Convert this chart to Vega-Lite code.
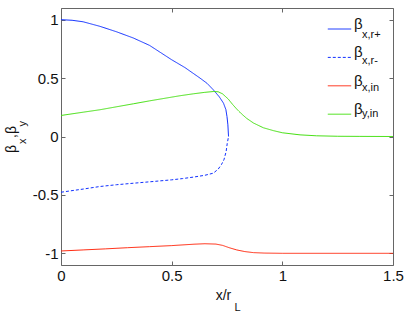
{
  "$schema": "https://vega.github.io/schema/vega-lite/v6.json",
  "width": 332,
  "height": 257,
  "autosize": "none",
  "padding": {"left": 61, "top": 8, "right": 14, "bottom": 46},
  "background": "white",
  "config": {
    "view": {"stroke": "#666", "strokeWidth": 1},
    "font": "Liberation Sans",
    "axis": {
      "grid": false, "domain": false, "tickColor": "#666", "tickSize": -4, "tickWidth": 1,
      "labelFont": "Liberation Sans", "labelFontSize": 15, "labelColor": "#111",
      "labelFlush": false, "labelOverlap": false,
      "titleFont": "Liberation Sans", "titleFontWeight": "normal", "titleColor": "#111"
    },
    "legend": {"labelFont": "Liberation Sans", "labelColor": "#111"}
  },
  "data": {
    "values": [
      {"series": "βx,r+", "sub": "x,r+", "x": 0, "y": 1.0},
      {"series": "βx,r+", "sub": "x,r+", "x": 0.05, "y": 0.995},
      {"series": "βx,r+", "sub": "x,r+", "x": 0.1, "y": 0.982},
      {"series": "βx,r+", "sub": "x,r+", "x": 0.176, "y": 0.943},
      {"series": "βx,r+", "sub": "x,r+", "x": 0.25, "y": 0.897},
      {"series": "βx,r+", "sub": "x,r+", "x": 0.327, "y": 0.843},
      {"series": "βx,r+", "sub": "x,r+", "x": 0.4, "y": 0.78},
      {"series": "βx,r+", "sub": "x,r+", "x": 0.5, "y": 0.657},
      {"series": "βx,r+", "sub": "x,r+", "x": 0.56, "y": 0.59},
      {"series": "βx,r+", "sub": "x,r+", "x": 0.628, "y": 0.5},
      {"series": "βx,r+", "sub": "x,r+", "x": 0.66, "y": 0.455},
      {"series": "βx,r+", "sub": "x,r+", "x": 0.688, "y": 0.4},
      {"series": "βx,r+", "sub": "x,r+", "x": 0.715, "y": 0.34},
      {"series": "βx,r+", "sub": "x,r+", "x": 0.734, "y": 0.286},
      {"series": "βx,r+", "sub": "x,r+", "x": 0.745, "y": 0.23},
      {"series": "βx,r+", "sub": "x,r+", "x": 0.75, "y": 0.17},
      {"series": "βx,r+", "sub": "x,r+", "x": 0.754, "y": 0.1},
      {"series": "βx,r+", "sub": "x,r+", "x": 0.756, "y": 0.03},
      {"series": "βx,r+", "sub": "x,r+", "x": 0.757, "y": 0.0},
      {"series": "βx,r-", "sub": "x,r-", "x": 0, "y": -0.477},
      {"series": "βx,r-", "sub": "x,r-", "x": 0.1, "y": -0.45},
      {"series": "βx,r-", "sub": "x,r-", "x": 0.176, "y": -0.428},
      {"series": "βx,r-", "sub": "x,r-", "x": 0.25, "y": -0.413},
      {"series": "βx,r-", "sub": "x,r-", "x": 0.327, "y": -0.4},
      {"series": "βx,r-", "sub": "x,r-", "x": 0.4, "y": -0.388},
      {"series": "βx,r-", "sub": "x,r-", "x": 0.5, "y": -0.371},
      {"series": "βx,r-", "sub": "x,r-", "x": 0.55, "y": -0.36},
      {"series": "βx,r-", "sub": "x,r-", "x": 0.6, "y": -0.347},
      {"series": "βx,r-", "sub": "x,r-", "x": 0.65, "y": -0.332},
      {"series": "βx,r-", "sub": "x,r-", "x": 0.688, "y": -0.314},
      {"series": "βx,r-", "sub": "x,r-", "x": 0.71, "y": -0.28},
      {"series": "βx,r-", "sub": "x,r-", "x": 0.725, "y": -0.24},
      {"series": "βx,r-", "sub": "x,r-", "x": 0.736, "y": -0.2},
      {"series": "βx,r-", "sub": "x,r-", "x": 0.746, "y": -0.13},
      {"series": "βx,r-", "sub": "x,r-", "x": 0.751, "y": -0.06},
      {"series": "βx,r-", "sub": "x,r-", "x": 0.757, "y": 0.0},
      {"series": "βx,in", "sub": "x,in", "x": 0, "y": -0.98},
      {"series": "βx,in", "sub": "x,in", "x": 0.1, "y": -0.971},
      {"series": "βx,in", "sub": "x,in", "x": 0.2, "y": -0.962},
      {"series": "βx,in", "sub": "x,in", "x": 0.3, "y": -0.952},
      {"series": "βx,in", "sub": "x,in", "x": 0.4, "y": -0.943},
      {"series": "βx,in", "sub": "x,in", "x": 0.5, "y": -0.934},
      {"series": "βx,in", "sub": "x,in", "x": 0.6, "y": -0.922},
      {"series": "βx,in", "sub": "x,in", "x": 0.65, "y": -0.918},
      {"series": "βx,in", "sub": "x,in", "x": 0.7, "y": -0.921},
      {"series": "βx,in", "sub": "x,in", "x": 0.73, "y": -0.932},
      {"series": "βx,in", "sub": "x,in", "x": 0.76, "y": -0.952},
      {"series": "βx,in", "sub": "x,in", "x": 0.794, "y": -0.971},
      {"series": "βx,in", "sub": "x,in", "x": 0.83, "y": -0.985},
      {"series": "βx,in", "sub": "x,in", "x": 0.869, "y": -0.994},
      {"series": "βx,in", "sub": "x,in", "x": 0.92, "y": -0.998},
      {"series": "βx,in", "sub": "x,in", "x": 1.0, "y": -1.0},
      {"series": "βx,in", "sub": "x,in", "x": 1.5, "y": -1.0},
      {"series": "βy,in", "sub": "y,in", "x": 0, "y": 0.18},
      {"series": "βy,in", "sub": "y,in", "x": 0.1, "y": 0.208},
      {"series": "βy,in", "sub": "y,in", "x": 0.176, "y": 0.229},
      {"series": "βy,in", "sub": "y,in", "x": 0.25, "y": 0.254},
      {"series": "βy,in", "sub": "y,in", "x": 0.327, "y": 0.28},
      {"series": "βy,in", "sub": "y,in", "x": 0.4, "y": 0.305},
      {"series": "βy,in", "sub": "y,in", "x": 0.5, "y": 0.337},
      {"series": "βy,in", "sub": "y,in", "x": 0.538, "y": 0.349},
      {"series": "βy,in", "sub": "y,in", "x": 0.6, "y": 0.366},
      {"series": "βy,in", "sub": "y,in", "x": 0.65, "y": 0.378},
      {"series": "βy,in", "sub": "y,in", "x": 0.688, "y": 0.385},
      {"series": "βy,in", "sub": "y,in", "x": 0.71, "y": 0.383},
      {"series": "βy,in", "sub": "y,in", "x": 0.73, "y": 0.365},
      {"series": "βy,in", "sub": "y,in", "x": 0.756, "y": 0.32},
      {"series": "βy,in", "sub": "y,in", "x": 0.775, "y": 0.275},
      {"series": "βy,in", "sub": "y,in", "x": 0.794, "y": 0.235},
      {"series": "βy,in", "sub": "y,in", "x": 0.815, "y": 0.195},
      {"series": "βy,in", "sub": "y,in", "x": 0.839, "y": 0.155},
      {"series": "βy,in", "sub": "y,in", "x": 0.87, "y": 0.115},
      {"series": "βy,in", "sub": "y,in", "x": 0.914, "y": 0.075},
      {"series": "βy,in", "sub": "y,in", "x": 0.96, "y": 0.05},
      {"series": "βy,in", "sub": "y,in", "x": 1.0, "y": 0.032},
      {"series": "βy,in", "sub": "y,in", "x": 1.08, "y": 0.014},
      {"series": "βy,in", "sub": "y,in", "x": 1.155, "y": 0.006},
      {"series": "βy,in", "sub": "y,in", "x": 1.25, "y": 0.002},
      {"series": "βy,in", "sub": "y,in", "x": 1.35, "y": 0.001},
      {"series": "βy,in", "sub": "y,in", "x": 1.5, "y": 0.0}
    ]
  },
  "layer": [
    {
      "mark": {"type": "line", "strokeWidth": 1, "clip": true},
      "encoding": {
        "x": {
          "field": "x", "type": "quantitative",
          "scale": {"domain": [0, 1.5], "nice": false, "zero": false},
          "axis": {
            "orient": "bottom", "values": [0, 0.5, 1, 1.5], "labelExpr": "'' + datum.value",
            "labelPadding": 7, "title": "x/r", "titleFontSize": 14,
            "titleX": 162, "titleY": 34, "titleBaseline": "alphabetic", "titleAlign": "center", "titleAngle": 0
          }
        },
        "y": {
          "field": "y", "type": "quantitative",
          "scale": {"domain": [-1.1, 1.1], "nice": false, "zero": false},
          "axis": {
            "orient": "left", "values": [-1, -0.5, 0, 0.5, 1], "labelExpr": "'' + datum.value",
            "labelPadding": 7, "title": "β\u2002,β", "titleFontSize": 14,
            "titleX": -46, "titleY": 131, "titleBaseline": "alphabetic", "titleAlign": "center", "titleAngle": -90
          }
        },
        "color": {
          "field": "series", "type": "nominal",
          "scale": {"domain": ["βx,r+", "βx,r-", "βx,in", "βy,in"], "range": ["#1030ff", "#1030ff", "#ff2a10", "#44e010"]},
          "legend": {
            "orient": "none", "legendX": 266, "legendY": 11, "title": null, "padding": 0,
            "symbolType": "stroke", "symbolSize": 548, "symbolStrokeWidth": 1,
            "labelExpr": "'β'", "labelFontSize": 15, "labelBaseline": "alphabetic", "labelOffset": 2,
            "clipHeight": 20, "rowPadding": 6.4
          }
        },
        "strokeDash": {
          "field": "series", "type": "nominal",
          "scale": {"domain": ["βx,r+", "βx,r-", "βx,in", "βy,in"], "range": [[1, 0], [3, 2], [1, 0], [1, 0]]},
          "legend": {
            "orient": "none", "legendX": 266, "legendY": 11, "title": null, "padding": 0,
            "symbolType": "stroke", "symbolSize": 548, "symbolStrokeWidth": 1,
            "labelExpr": "'β'", "labelFontSize": 15, "labelBaseline": "alphabetic", "labelOffset": 2,
            "clipHeight": 20, "rowPadding": 6.4
          }
        }
      }
    },
    {
      "mark": {"type": "point", "opacity": 0},
      "encoding": {
        "x": {"field": "x", "type": "quantitative", "axis": {"orient": "top", "values": [0, 0.5, 1, 1.5], "labels": false, "title": null}},
        "y": {"field": "y", "type": "quantitative", "axis": {"orient": "right", "values": [-1, -0.5, 0, 0.5, 1], "labels": false, "title": null}},
        "shape": {
          "field": "sub", "type": "nominal",
          "scale": {"domain": ["x,r+", "x,r-", "x,in", "y,in"]},
          "legend": {
            "orient": "none", "legendX": 273, "legendY": 20, "title": null, "padding": 0,
            "symbolSize": 548, "symbolOpacity": 0, "symbolStrokeWidth": 0,
            "labelFontSize": 11, "labelBaseline": "alphabetic", "labelOffset": 4,
            "clipHeight": 20, "rowPadding": 6.4
          }
        }
      }
    },
    {
      "mark": {"type": "point", "opacity": 0},
      "encoding": {
        "x": {
          "field": "x", "type": "quantitative",
          "axis": {"orient": "bottom", "labels": false, "ticks": false, "title": "L", "titleFontSize": 11,
                   "titleX": 176, "titleY": 45, "titleBaseline": "alphabetic", "titleAlign": "center", "titleAngle": 0}
        },
        "y": {
          "field": "y", "type": "quantitative",
          "axis": {"orient": "left", "labels": false, "ticks": false, "title": "x\u00a0\u00a0\u00a0\u00a0y", "titleFontSize": 11,
                   "titleX": -36, "titleY": 124, "titleBaseline": "alphabetic", "titleAlign": "center", "titleAngle": -90}
        }
      }
    }
  ],
  "resolve": {"axis": {"x": "independent", "y": "independent"}}
}
